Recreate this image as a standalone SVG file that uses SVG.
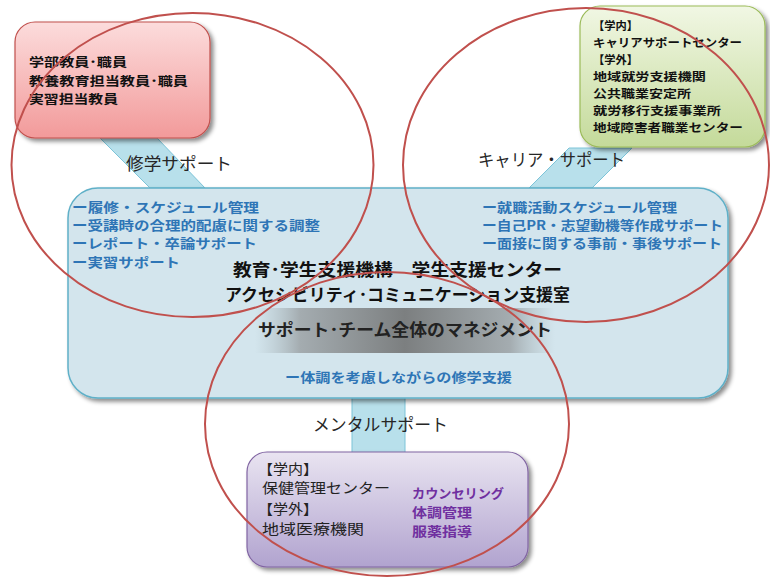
<svg xmlns="http://www.w3.org/2000/svg" width="770" height="581" viewBox="0 0 770 581">
<defs>
<filter id="sh" x="-10%" y="-10%" width="125%" height="130%">
<feDropShadow dx="3" dy="3" stdDeviation="2" flood-color="#000" flood-opacity="0.45"/>
</filter>
<linearGradient id="gRed" x1="0" y1="0" x2="0" y2="1">
<stop offset="0" stop-color="#fcdcdc"/><stop offset="1" stop-color="#f29a9a"/>
</linearGradient>
<linearGradient id="gGreen" x1="0" y1="0" x2="0" y2="1">
<stop offset="0" stop-color="#f1f7e4"/><stop offset="1" stop-color="#c4da9a"/>
</linearGradient>
<linearGradient id="gPurple" x1="0" y1="0" x2="0" y2="1">
<stop offset="0" stop-color="#e9e4f1"/><stop offset="1" stop-color="#b1a3cf"/>
</linearGradient>
<linearGradient id="gBand" x1="0" y1="0" x2="1" y2="0">
<stop offset="0" stop-color="#b2c2c8" stop-opacity="0"/>
<stop offset="0.15" stop-color="#a4acb0"/>
<stop offset="0.5" stop-color="#7c7f80"/>
<stop offset="0.85" stop-color="#a4acb0"/>
<stop offset="1" stop-color="#b2c2c8" stop-opacity="0"/>
</linearGradient>
<style>
.jp{font-family:'Noto Sans CJK JP','Noto Sans CJK SC',sans-serif}
.b{font-weight:bold}
.blk{fill:#111}
.blue{fill:#2e75b6;font-weight:bold;font-size:13px}
.lbl{fill:#262626;font-size:17px}
.pur{fill:#7030a0;font-weight:bold;font-size:13px}
.band{fill:#b8e0eb;stroke:#7cc4d8;stroke-width:1}
.ring{fill:none;stroke:#c0504d;stroke-width:2}
</style>
</defs>
<rect width="770" height="581" fill="#fff"/>
<g id="connectors">
<polygon class="band" points="100,138 157,138 205,188 150,188"/>
<polygon class="band" points="569,148 632,148 592,188 529,188"/>
<rect class="band" x="352" y="396" width="53" height="58"/>
</g>
<g id="center">
<rect x="68" y="188" width="660" height="210" rx="30" fill="#d3e5ed" stroke="#5fb0c8" stroke-width="1.5" filter="url(#sh)"/>
<g class="jp">
<text class="blue" x="72" y="212" textLength="187" lengthAdjust="spacingAndGlyphs">ー履修・スケジュール管理</text>
<text class="blue" x="72" y="230" textLength="248" lengthAdjust="spacingAndGlyphs">ー受講時の合理的配慮に関する調整</text>
<text class="blue" x="72" y="248" textLength="185" lengthAdjust="spacingAndGlyphs">ーレポート・卒論サポート</text>
<text class="blue" x="72" y="267" textLength="108" lengthAdjust="spacingAndGlyphs">ー実習サポート</text>
<text class="blue" x="482" y="212" textLength="195" lengthAdjust="spacingAndGlyphs">ー就職活動スケジュール管理</text>
<text class="blue" x="482" y="230" textLength="241" lengthAdjust="spacingAndGlyphs">ー自己PR・志望動機等作成サポート</text>
<text class="blue" x="482" y="248" textLength="240" lengthAdjust="spacingAndGlyphs">ー面接に関する事前・事後サポート</text>
<text class="b blk" x="233" y="276" font-size="17" textLength="329" lengthAdjust="spacingAndGlyphs">教育･学生支援機構　学生支援センター</text>
<text class="b blk" x="225" y="301" font-size="17" textLength="345" lengthAdjust="spacingAndGlyphs">アクセシビリティ･コミュニケーション支援室</text>
<rect x="255" y="308" width="300" height="45" fill="url(#gBand)"/>
<text class="b" fill="#222" x="258" y="336" font-size="17" textLength="294" lengthAdjust="spacingAndGlyphs">サポート･チーム全体のマネジメント</text>
<text class="blue" x="285" y="382" textLength="227" lengthAdjust="spacingAndGlyphs">ー体調を考慮しながらの修学支援</text>
</g>
</g>
<g id="faculty">
<rect x="15" y="22" width="195" height="116" rx="20" fill="url(#gRed)" stroke="#c0504d" stroke-width="1.2" filter="url(#sh)"/>
<g class="jp b blk" font-size="12.5">
<text x="29" y="67" textLength="98" lengthAdjust="spacingAndGlyphs">学部教員･職員</text>
<text x="29" y="86" textLength="159" lengthAdjust="spacingAndGlyphs">教養教育担当教員･職員</text>
<text x="29" y="104" textLength="89" lengthAdjust="spacingAndGlyphs">実習担当教員</text>
</g>
</g>
<g id="career">
<rect x="580" y="6" width="185" height="141" rx="20" fill="url(#gGreen)" stroke="#9bbb59" stroke-width="1.2" filter="url(#sh)"/>
<g class="jp b blk" font-size="11.5">
<text x="593" y="30" textLength="45" lengthAdjust="spacingAndGlyphs">【学内】</text>
<text x="593" y="47" textLength="149" lengthAdjust="spacingAndGlyphs">キャリアサポートセンター</text>
<text x="593" y="64" textLength="45" lengthAdjust="spacingAndGlyphs">【学外】</text>
<text x="593" y="81" textLength="113" lengthAdjust="spacingAndGlyphs">地域就労支援機関</text>
<text x="593" y="98" textLength="98" lengthAdjust="spacingAndGlyphs">公共職業安定所</text>
<text x="593" y="115" textLength="128" lengthAdjust="spacingAndGlyphs">就労移行支援事業所</text>
<text x="593" y="132" textLength="150" lengthAdjust="spacingAndGlyphs">地域障害者職業センター</text>
</g>
</g>
<g id="mental">
<rect x="247" y="452" width="281" height="115" rx="20" fill="url(#gPurple)" stroke="#8064a2" stroke-width="1.2" filter="url(#sh)"/>
<g class="jp" fill="#222" font-size="14">
<text x="258" y="474" textLength="60" lengthAdjust="spacingAndGlyphs">【学内】</text>
<text x="262" y="493" textLength="128" lengthAdjust="spacingAndGlyphs">保健管理センター</text>
<text x="258" y="514" textLength="60" lengthAdjust="spacingAndGlyphs">【学外】</text>
<text x="262" y="534" textLength="102" lengthAdjust="spacingAndGlyphs">地域医療機関</text>
</g>
<g class="jp">
<text class="pur" x="412" y="498" textLength="92" lengthAdjust="spacingAndGlyphs">カウンセリング</text>
<text class="pur" x="412" y="517" textLength="60" lengthAdjust="spacingAndGlyphs">体調管理</text>
<text class="pur" x="412" y="536" textLength="60" lengthAdjust="spacingAndGlyphs">服薬指導</text>
</g>
</g>
<g id="labels" class="jp">
<text class="lbl" x="126" y="170" textLength="106" lengthAdjust="spacingAndGlyphs">修学サポート</text>
<text class="lbl" x="478" y="166" textLength="147" lengthAdjust="spacingAndGlyphs">キャリア・サポート</text>
<text class="lbl" x="313" y="431" textLength="135" lengthAdjust="spacingAndGlyphs">メンタルサポート</text>
</g>
<g id="rings">
<ellipse class="ring" cx="192.5" cy="165" rx="181" ry="152"/>
<ellipse class="ring" cx="586" cy="165" rx="183" ry="157"/>
<ellipse class="ring" cx="387" cy="424" rx="182" ry="152"/>
</g>
</svg>
